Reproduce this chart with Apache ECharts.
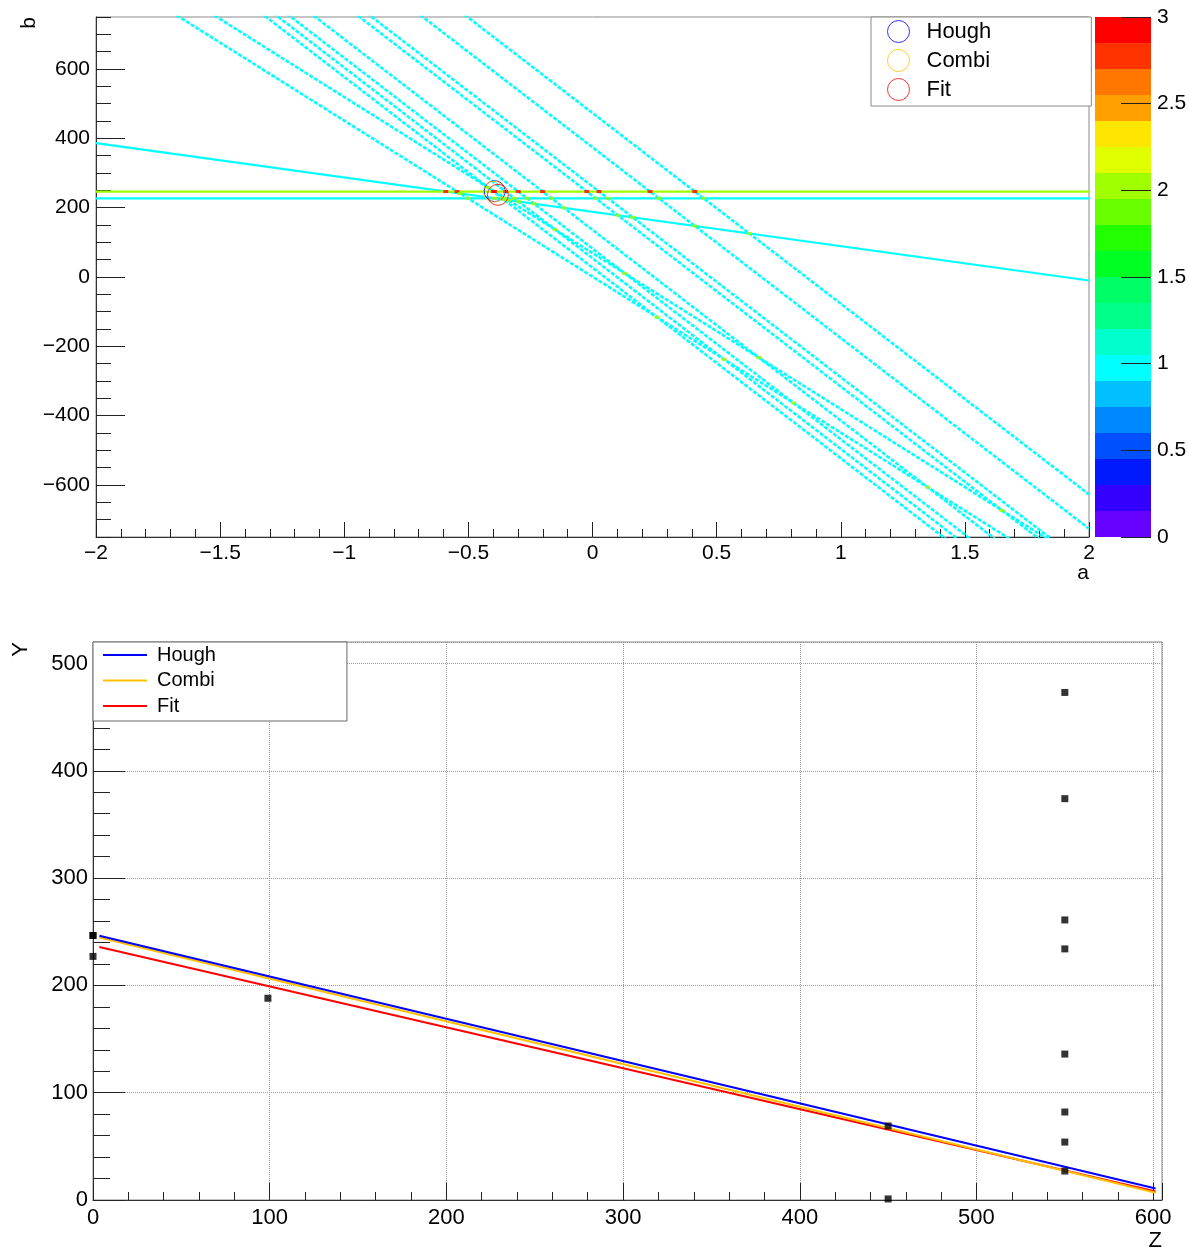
<!DOCTYPE html>
<html><head><meta charset="utf-8">
<script src="https://cdn.jsdelivr.net/npm/echarts@6/dist/echarts.min.js"></script>
<style>html,body{margin:0;padding:0;background:#fff}#c{width:1189px;height:1248px}</style>
</head><body><div id="c"></div>
<script>
// ---- data ----
// detector hits (Z, Y)
const hitZ = [0, 0, 0, 99, 450, 450, 550, 550, 550, 550, 550, 550, 550, 550];
const hitY = [246.5, 246.5, 227, 188, 69, 1, 27, 54, 82, 136, 234, 261, 374, 473];
// track candidates: slope a and intercept b
const trackNames = ['Hough', 'Combi', 'Fit'];
const trackA = [-0.394, -0.398, -0.381];
const trackB = [247.7, 246.1, 237.1];
const trackColors = ['#0000ff', '#ffc000', '#ff0000'];
const trackZRange = [3.6, 601.4];
// Hough space range
const aRange = [-2, 2];
const bRange = [-750, 750];
const bLabels = [-600, -400, -200, 0, 200, 400, 600];
// colour palette (z axis)
const paletteLevels = [0, 0.15, 0.3, 0.45, 0.6, 0.75, 0.9, 1.05, 1.2, 1.35, 1.5, 1.65, 1.8, 1.95, 2.1, 2.25, 2.4, 2.55, 2.7, 2.85, 3];
const paletteColors = ['#6600ff', '#3300ff', '#0019ff', '#0050ff', '#0088ff', '#00c0ff', '#00ffff', '#00ffcc', '#00ff88', '#00ff66',
                       '#00ff22', '#22ff00', '#6aff00', '#a0ff00', '#e0ff00', '#ffe600', '#ffa000', '#ff7700', '#ff3300', '#ff0000'];

// ---- chart ----
const FONT = 'Liberation Sans';
const minus = v => String(v).replace('-', '\u2212');
function paletteColor(v) {
  for (let k = 0; k < paletteColors.length; k++) if (v >= paletteLevels[k] && v < paletteLevels[k + 1]) return paletteColors[k];
  return paletteColors[paletteColors.length - 1];
}
// accumulate identical hits into one Hough line (b = y - a*z) with a count
const houghLines = [];
hitZ.forEach((z, i) => {
  const y = hitY[i];
  const f = houghLines.find(l => l.z === z && l.y === y);
  if (f) f.count++; else houghLines.push({ z, y, count: 1 });
});
// crossings of Hough lines: bins where counts add up
const crossings = [];
for (let i = 0; i < houghLines.length; i++) {
  for (let j = i + 1; j < houghLines.length; j++) {
    const L1 = houghLines[i], L2 = houghLines[j];
    if (L1.z === L2.z) continue;
    const a = (L1.y - L2.y) / (L1.z - L2.z);
    const b = L1.y - a * L1.z;
    if (a < aRange[0] || a > aRange[1] || b < bRange[0] || b > bRange[1]) continue;
    crossings.push({ value: [a, b], itemStyle: { color: paletteColor(L1.count + L2.count) } });
  }
}

const lbl = (size, extra) => Object.assign({ color: '#000', fontFamily: FONT, fontSize: size }, extra || {});
const tickStyle = { color: '#222', width: 1 };

const series = [];
houghLines.forEach(l => {
  series.push({
    type: 'line', xAxisIndex: 0, yAxisIndex: 0, silent: true, symbol: 'none', animation: false,
    data: aRange.map(a => [a, l.y - a * l.z]),
    lineStyle: { color: paletteColor(l.count), width: l.z > 200 ? 2.6 : 2.2, type: l.z > 200 ? [4, 1.6] : 'solid' }, z: 2 + l.count
  });
});
series.push({
  type: 'scatter', xAxisIndex: 0, yAxisIndex: 0, silent: true, symbol: 'rect', symbolSize: [5, 3], animation: false,
  data: crossings, z: 6
});
trackNames.forEach((n, i) => {
  series.push({
    name: n, type: 'scatter', xAxisIndex: 0, yAxisIndex: 0, symbol: 'circle', symbolSize: 21, animation: false,
    data: [[trackA[i], trackB[i]]],
    itemStyle: { color: 'rgba(0,0,0,0)', borderColor: trackColors[i], borderWidth: 1 }, z: 10
  });
});
trackNames.forEach((n, i) => {
  series.push({
    name: n + ' track', type: 'line', xAxisIndex: 1, yAxisIndex: 2, symbol: 'none', showSymbol: false, animation: false,
    data: trackZRange.map(z => [z, trackB[i] + trackA[i] * z]),
    lineStyle: { color: trackColors[i], width: 2 }, itemStyle: { color: trackColors[i] }, z: 3 + (2 - i)
  });
});
series.push({
  name: 'hits', type: 'scatter', xAxisIndex: 1, yAxisIndex: 2, symbol: 'rect', symbolSize: 7, clip: false, animation: false,
  data: hitZ.map((z, i) => [z, hitY[i]]), itemStyle: { color: '#000' }, z: 8
});
series.push({
  type: 'custom', xAxisIndex: 2, yAxisIndex: 3, silent: true, animation: false,
  data: paletteColors.map((c, i) => [paletteLevels[i], paletteLevels[i + 1]]),
  renderItem: (params, api) => {
    const p0 = api.coord([0, api.value(0)]);
    const p1 = api.coord([1, api.value(1)]);
    return { type: 'rect', shape: { x: p0[0], y: p1[1], width: p1[0] - p0[0], height: p0[1] - p1[1] },
             style: { fill: paletteColors[params.dataIndex] } };
  }
});

const option = {
  backgroundColor: '#fff',
  animation: false,
  grid: [
    { left: 96, top: 17, width: 993, height: 520, show: true, borderColor: '#888', borderWidth: 1, outerBoundsMode: 'none', containLabel: false },
    { left: 93, top: 642, width: 1069, height: 558, show: true, borderColor: '#888', borderWidth: 1, outerBoundsMode: 'none', containLabel: false },
    { left: 1095, top: 17, width: 56, height: 520, show: false, outerBoundsMode: 'none', containLabel: false }
  ],
  xAxis: [
    { gridIndex: 0, type: 'value', min: aRange[0], max: aRange[1], interval: 0.5,
      name: 'a', nameLocation: 'end', nameGap: 0, nameMoveOverlap: false,
      nameTextStyle: lbl(21, { align: 'right', verticalAlign: 'top', padding: [26, 0, 0, 0] }),
      axisLine: { onZero: false, lineStyle: { color: '#333' } },
      axisTick: { inside: true, length: 15, lineStyle: tickStyle },
      minorTick: { show: true, splitNumber: 5, length: 8, lineStyle: tickStyle },
      axisLabel: lbl(21, { margin: 6, formatter: minus }), splitLine: { show: false } },
    { gridIndex: 1, type: 'value', min: 0, max: 605, interval: 100,
      name: 'Z', nameLocation: 'end', nameGap: 0, nameMoveOverlap: false,
      nameTextStyle: lbl(22, { align: 'right', verticalAlign: 'top', padding: [30, 0, 0, 0] }),
      axisLine: { onZero: false, lineStyle: { color: '#333' } },
      axisTick: { inside: true, length: 17, lineStyle: tickStyle },
      minorTick: { show: true, splitNumber: 5, length: 8, lineStyle: tickStyle },
      axisLabel: lbl(22, { margin: 7, showMaxLabel: false }),
      splitLine: { show: true, lineStyle: { color: '#999', type: 'dotted', width: 1 } } },
    { gridIndex: 2, type: 'value', min: 0, max: 1, show: false }
  ],
  yAxis: [
    { gridIndex: 0, type: 'value', min: bRange[0], max: bRange[1], interval: 50, position: 'left',
      name: 'b', nameLocation: 'end', nameGap: 0, nameRotate: 90, nameMoveOverlap: false,
      nameTextStyle: lbl(21, { align: 'right', verticalAlign: 'bottom', padding: [0, 0, 56, 0] }),
      axisLine: { onZero: false, lineStyle: { color: '#333' } },
      axisTick: { inside: true, length: 15, lineStyle: tickStyle },
      axisLabel: lbl(21, { margin: 6, formatter: minus, customValues: bLabels }),
      splitLine: { show: false } },
    { gridIndex: 0, type: 'value', min: bRange[0], max: bRange[1], position: 'left',
      axisLine: { show: false, onZero: false }, axisLabel: { show: false }, splitLine: { show: false },
      axisTick: { show: true, inside: true, length: 29, lineStyle: tickStyle, customValues: bLabels } },
    { gridIndex: 1, type: 'value', min: 0, max: 520, interval: 100, position: 'left',
      name: 'Y', nameLocation: 'end', nameGap: 0, nameRotate: 90, nameMoveOverlap: false,
      nameTextStyle: lbl(22, { align: 'right', verticalAlign: 'bottom', padding: [0, 0, 61, 0] }),
      axisLine: { onZero: false, lineStyle: { color: '#333' } },
      axisTick: { inside: true, length: 32, lineStyle: tickStyle },
      minorTick: { show: true, splitNumber: 5, length: 17, lineStyle: tickStyle },
      axisLabel: lbl(22, { margin: 5, showMaxLabel: false }),
      splitLine: { show: true, lineStyle: { color: '#999', type: 'dotted', width: 1 } } },
    { gridIndex: 2, type: 'value', min: 0, max: 3, interval: 0.5, position: 'right', z: 10,
      axisLine: { show: false, onZero: false },
      axisTick: { inside: true, length: 30, lineStyle: tickStyle },
      axisLabel: lbl(21, { margin: 6 }), splitLine: { show: false } }
  ],
  legend: [
    { orient: 'vertical', left: 871, top: 17, padding: [3, 100, 5, 16], itemGap: 6, itemWidth: 22, itemHeight: 22,
      backgroundColor: '#fff', borderColor: '#888', borderWidth: 1, borderRadius: 0, selectedMode: false,
      textStyle: lbl(22, { lineHeight: 22, padding: [0, 0, 0, 12] }),
      data: trackNames.map((n, i) => ({ name: n, icon: 'circle', itemStyle: { color: 'rgba(0,0,0,0)', borderColor: trackColors[i], borderWidth: 1 } })) },
    { orient: 'vertical', left: 93, top: 642, padding: [3, 131, 5, 10], itemGap: 5.5, itemWidth: 44, itemHeight: 2,
      backgroundColor: '#fff', borderColor: '#666', borderWidth: 1, borderRadius: 0, selectedMode: false,
      textStyle: lbl(20, { lineHeight: 20, padding: [0, 0, 0, 5] }),
      formatter: name => name.replace(' track', ''),
      data: trackNames.map((n, i) => ({ name: n + ' track', icon: 'rect', itemStyle: { color: trackColors[i] } })) }
  ],
  series
};
const chart = echarts.init(document.getElementById('c'), null, { renderer: 'canvas', width: 1189, height: 1248 });
chart.setOption(option);
</script></body></html>
